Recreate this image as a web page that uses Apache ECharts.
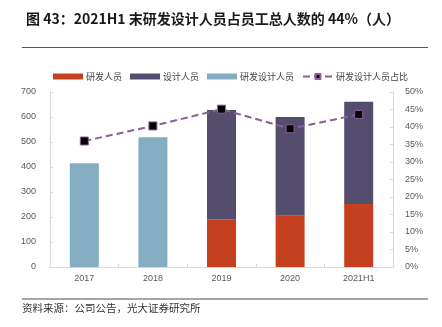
<!DOCTYPE html>
<html><head><meta charset="utf-8">
<script src="https://cdn.jsdelivr.net/npm/echarts@6/dist/echarts.min.js"></script>
<style>html,body{margin:0;padding:0;background:#fff;}#c{width:442px;height:327px;}</style>
</head><body><div id="c"></div>
<script>
const categories = ['2017', '2018', '2019', '2020', '2021H1'];
const rdStaff = [null, null, 191, 205, 252];
const designStaff = [null, null, 437, 395, 409];
const rdDesignStaff = [415, 519, null, null, null];
const ratio = [36.0, 40.3, 45.1, 39.5, 43.6];
const leftTicks = [0, 100, 200, 300, 400, 500, 600, 700];
const rightTicks = [0, 5, 10, 15, 20, 25, 30, 35, 40, 45, 50];

const chart = echarts.init(document.getElementById('c'), null, {renderer: 'canvas'});
const FONT = '"Noto Sans CJK SC", "Liberation Sans", sans-serif';
const axisLabel = {color: '#595959', fontSize: 9, fontFamily: '"Liberation Sans", Arial, sans-serif'};
chart.setOption({
  animation: false,
  backgroundColor: '#fff',
  title: {
    text: '图 43：2021H1 末研发设计人员占员工总人数的 44%（人）',
    left: 21, top: 7,
    textStyle: {fontSize: 14, fontWeight: 'bold', color: '#1a1a1a', fontFamily: FONT}
  },
  graphic: [
    {type: 'line', shape: {x1: 22, y1: 47.5, x2: 428, y2: 47.5}, style: {stroke: '#555', lineWidth: 1}},
    {type: 'line', shape: {x1: 22, y1: 299, x2: 428, y2: 299}, style: {stroke: '#888', lineWidth: 1.5}},
    {type: 'text', left: 22, top: 303, style: {text: '资料来源：公司公告，光大证券研究所', fontSize: 10.5, fill: '#333', fontFamily: FONT}}
  ],
  legend: {
    top: 67, left: 48,
    itemWidth: 30, itemHeight: 6, itemGap: 8,
    textStyle: {fontSize: 9, color: '#404040', fontFamily: FONT, padding: [0, 0, 0, -2]},
    data: [
      {name: '研发人员', icon: 'rect'},
      {name: '设计人员', icon: 'rect'},
      {name: '研发设计人员', icon: 'rect'},
      {name: '研发设计人员占比'}
    ]
  },
  grid: {left: 50, right: 49, top: 92, bottom: 60, containLabel: false},
  xAxis: {
    type: 'category', data: categories,
    axisLine: {lineStyle: {color: '#d9d9d9'}},
    axisTick: {show: true, inside: true, length: 3, lineStyle: {color: '#d9d9d9'}},
    axisLabel: Object.assign({}, axisLabel, {margin: 7})
  },
  yAxis: [
    {type: 'value', min: 0, max: 700, interval: 100,
     axisLine: {show: true, lineStyle: {color: '#d9d9d9'}},
     axisTick: {show: true, inside: true, length: 3, lineStyle: {color: '#d9d9d9'}},
     splitLine: {show: false},
     axisLabel: Object.assign({}, axisLabel, {margin: 14, formatter: v => leftTicks.includes(v) ? String(v) : ''})},
    {type: 'value', min: 0, max: 50, interval: 5,
     axisLine: {show: true, lineStyle: {color: '#d9d9d9'}},
     axisTick: {show: true, inside: true, length: 3, lineStyle: {color: '#d9d9d9'}},
     splitLine: {show: false},
     axisLabel: Object.assign({}, axisLabel, {margin: 12, formatter: v => rightTicks.includes(v) ? v + '%' : ''})}
  ],
  series: [
    {name: '研发人员', type: 'bar', stack: 's', data: rdStaff, barWidth: 29,
     itemStyle: {color: '#C5401F'}},
    {name: '设计人员', type: 'bar', stack: 's', data: designStaff, barWidth: 29,
     itemStyle: {color: '#554D6E'}},
    {name: '研发设计人员', type: 'bar', stack: 's', data: rdDesignStaff, barWidth: 29,
     itemStyle: {color: '#84ADC2'}},
    {name: '研发设计人员占比', type: 'line', yAxisIndex: 1, data: ratio,
     symbol: 'rect', symbolSize: 8,
     lineStyle: {color: '#8B5E9B', width: 2, type: [7, 4]},
     itemStyle: {color: '#000', borderColor: '#8B5E9B', borderWidth: 1}}
  ]
});
</script></body></html>
